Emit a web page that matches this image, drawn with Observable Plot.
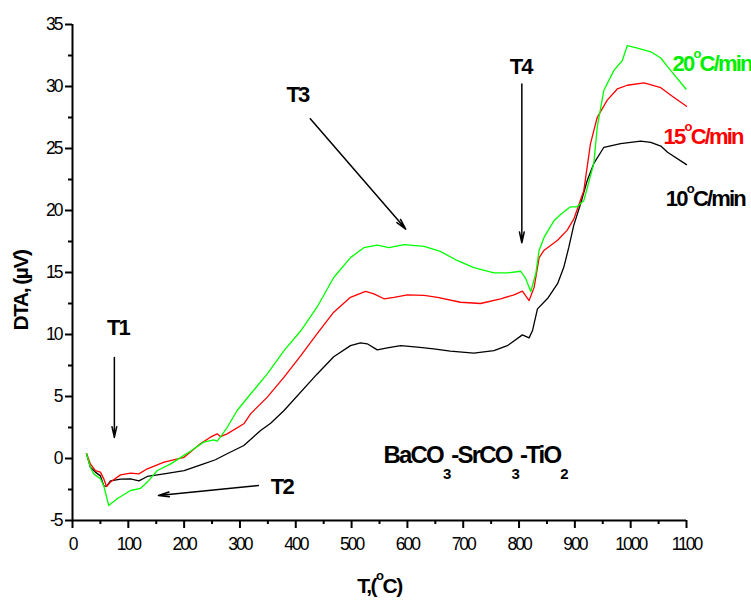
<!DOCTYPE html>
<html>
<head>
<meta charset="utf-8">
<script src="https://cdn.jsdelivr.net/npm/d3@7"></script>
<script src="https://cdn.jsdelivr.net/npm/@observablehq/plot@0.6"></script>
<style>
  html, body { margin: 0; padding: 0; background: white; }
  svg text { font-family: "Liberation Sans", Arial, sans-serif; }
  g[aria-label="x-axis tick label"] text, g[aria-label="y-axis tick label"] text { letter-spacing: -2px; font-size: 17.5px; }
  g[aria-label="x-axis label"] text, g[aria-label="y-axis label"] text { font-weight: bold; font-size: 21px; letter-spacing: -1.5px; }
  g[aria-label="text"] text { letter-spacing: -1.8px; }
</style>
</head>
<body>
<div id="chart"></div>
<script>
// Temperature (°C) and DTA (µV)
const rate10 = [[25,0.4],[32,-0.7],[41,-1.1],[50,-1.4],[56,-2.2],[61,-2.25],[68,-1.8],[86,-1.67],[104,-1.64],[119,-1.8],[134,-1.45],[164,-1.24],[200,-0.97],[235,-0.43],[256,-0.1],[277,0.38],[307,1.05],[337,2.26],[355,2.85],[379,3.87],[438,6.8],[468,8.2],[498,9.1],[516,9.33],[528,9.25],[546,8.76],[564,8.92],[588,9.1],[618,8.98],[647,8.84],[677,8.66],[719,8.5],[755,8.7],[779,9.1],[806,9.97],[818,9.73],[824,10.3],[833,12.07],[851,12.9],[869,14.1],[880,15.4],[889,17.0],[898,18.8],[910,20.5],[922,22.4],[934,23.8],[952,25.1],[982,25.4],[1018,25.6],[1036,25.5],[1054,25.2],[1066,24.7],[1100,23.7]];
const rate15 = [[25,0.4],[32,-0.43],[41,-0.97],[50,-1.1],[56,-1.64],[61,-2.26],[68,-1.9],[86,-1.32],[104,-1.18],[119,-1.24],[134,-0.83],[164,-0.3],[200,0.1],[229,1.18],[247,1.72],[259,1.99],[265,1.77],[277,1.99],[307,2.8],[319,3.6],[349,4.95],[379,6.56],[409,8.3],[438,10.05],[468,11.8],[498,13.0],[525,13.47],[540,13.28],[558,12.88],[576,13.0],[600,13.2],[630,13.15],[654,13.0],[695,12.6],[731,12.5],[767,12.88],[791,13.2],[806,13.5],[818,12.74],[827,13.8],[836,16.2],[845,16.8],[869,17.6],[886,18.4],[898,19.3],[916,21.6],[928,25.4],[940,27.5],[958,28.9],[976,29.8],[994,30.1],[1024,30.3],[1054,29.9],[1072,29.3],[1100,28.4]];
const rate20 = [[25,0.4],[32,-0.7],[38,-1.24],[50,-1.64],[56,-2.2],[65,-3.8],[80,-3.25],[104,-2.58],[122,-2.4],[134,-1.9],[152,-0.97],[176,-0.43],[206,0.43],[235,1.32],[253,1.5],[259,1.4],[265,1.72],[277,2.5],[295,3.87],[319,5.2],[349,6.83],[379,8.7],[409,10.3],[438,12.2],[468,14.6],[498,16.2],[522,17.0],[546,17.2],[567,17.0],[594,17.25],[630,17.1],[659,16.7],[689,15.97],[719,15.4],[755,14.97],[779,14.97],[803,15.1],[812,14.5],[821,13.47],[830,14.9],[836,16.8],[845,17.85],[863,19.2],[875,19.7],[892,20.3],[904,20.3],[916,20.8],[934,23.8],[940,26.7],[952,29.7],[970,31.3],[985,32.1],[994,33.3],[1012,33.1],[1036,32.8],[1054,32.3],[1066,31.6],[1099,29.8]];

const xTicks = [0,100,200,300,400,500,600,700,800,900,1000,1100];
const xMinorTicks = [50,150,250,350,450,550,650,750,850,950,1050];
const yTicks = [-5,0,5,10,15,20,25,30,35];
const yMinorTicks = [-2.5,2.5,7.5,12.5,17.5,22.5,27.5,32.5];

const seriesLabels = [
  {text: "20^oC/min", x: 1075, y: 31.8, color: "#00ee00"},
  {text: "15^oC/min", x: 1059, y: 25.9, color: "#ff0000"},
  {text: "10^oC/min", x: 1063, y: 20.9, color: "#000000"}
];
const peakLabels = [
  {text: "T1", x: 81.5, y: 10.5},
  {text: "T2", x: 375, y: -2.26},
  {text: "T3", x: 403, y: 29.3},
  {text: "T4", x: 803, y: 31.6}
];
const peakArrows = [
  {x1: 75, y1: 8.15, x2: 75, y2: 1.7},
  {x1: 333, y1: -2.18, x2: 154, y2: -2.98},
  {x1: 426, y1: 27.4, x2: 597, y2: 18.5},
  {x1: 805, y1: 30.2, x2: 805, y2: 17.4}
];
const compound = [{text: "BaCO_3-SrCO_3-TiO_2", x: 557, y: 0.25}];

const toObj = (arr) => arr.map(([t, v]) => ({t, v}));

const fmt = d => String(d);

const chart = Plot.plot({
  width: 751,
  height: 601,
  marginLeft: 72,
  marginRight: 65,
  marginTop: 24,
  marginBottom: 81,
  x: {domain: [0, 1100]},
  y: {domain: [-5, 35]},
  style: {background: "white", fontFamily: "Liberation Sans, Arial, sans-serif", fontSize: "17px", color: "black", overflow: "visible"},
  marks: [
    Plot.axisX(xTicks, {tickSize: 8, tickPadding: 9, strokeWidth: 2, tickFormat: fmt, label: "T,(^oC)", labelAnchor: "center", labelOffset: 72, labelArrow: "none"}),
    Plot.axisX(xMinorTicks, {tickSize: 4, strokeWidth: 2, text: null, label: null}),
    Plot.axisY(yTicks, {tickSize: 7, tickPadding: 4, strokeWidth: 2, tickFormat: fmt, label: "DTA, (µV)", labelAnchor: "center", labelOffset: 59, labelArrow: "none"}),
    Plot.axisY(yMinorTicks, {tickSize: 4, strokeWidth: 2, text: null, label: null}),
    Plot.ruleY([-5], {strokeWidth: 2}),
    Plot.ruleX([0], {strokeWidth: 2}),
    Plot.line(toObj(rate10), {x: "t", y: "v", stroke: "#000000", strokeWidth: 1.3}),
    Plot.line(toObj(rate15), {x: "t", y: "v", stroke: "#ff0000", strokeWidth: 1.3}),
    Plot.line(toObj(rate20), {x: "t", y: "v", stroke: "#00ff00", strokeWidth: 1.3}),
    Plot.arrow(peakArrows, {x1: "x1", y1: "y1", x2: "x2", y2: "y2", stroke: "black", strokeWidth: 1.5, headLength: 11, headAngle: 25}),
    Plot.text(peakLabels, {x: "x", y: "y", text: "text", fontSize: 22, fontWeight: "bold", fill: "black", textAnchor: "middle"}),
    Plot.text(seriesLabels, {x: "x", y: "y", text: "text", fontSize: 22, fontWeight: "bold", fill: "color", textAnchor: "start"}),
    Plot.text(compound, {x: "x", y: "y", text: "text", fontSize: 24, fontWeight: "bold", fill: "black", textAnchor: "start"})
  ]
});

// rich text: _x subscript, ^x superscript
d3.select(chart).selectAll("text").each(function() {
  const s = this.textContent;
  if (!/[_^]/.test(s)) return;
  const el = d3.select(this);
  el.text(null);
  const re = /([_^])(\w)|([^_^]+)/g;
  let m, shift = 0;
  while ((m = re.exec(s))) {
    if (m[3]) {
      const ts = el.append("tspan").text(m[3]);
      if (shift) { ts.attr("dy", -shift); shift = 0; }
    } else if (m[1] === "_") {
      const d = 16;
      el.append("tspan").attr("dy", d - shift).attr("font-size", 15).style("letter-spacing", "0px").text(m[2]);
      shift = d;
    } else {
      const d = -13;
      el.append("tspan").attr("dy", d - shift).attr("font-size", 13).text(m[2]);
      shift = d;
    }
  }
});
// nudge the y-axis title down to where the reference has it
d3.select(chart).select('g[aria-label="y-axis label"] text').attr("dx", -18);

document.getElementById("chart").appendChild(chart);
</script>
</body>
</html>
